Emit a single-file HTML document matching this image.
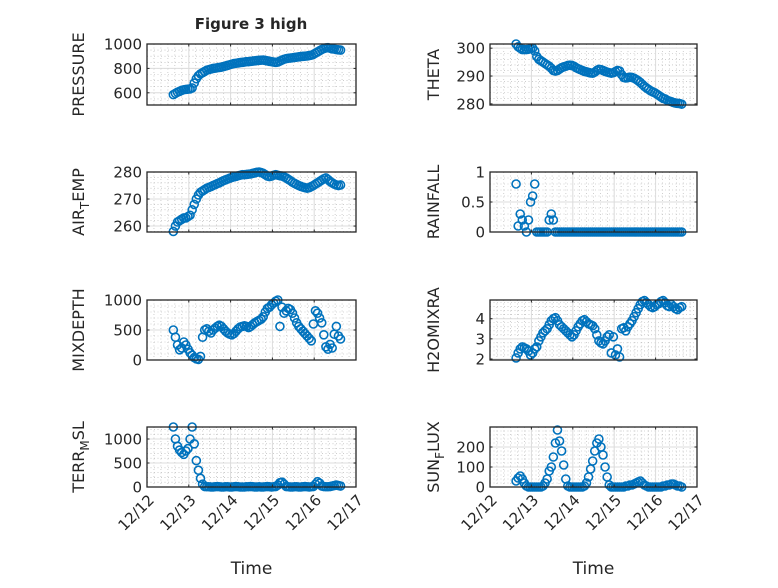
<!DOCTYPE html>
<html><head><meta charset="utf-8"><style>
html,body{margin:0;padding:0;background:#fff;}
svg text{font-family:"DejaVu Sans","Liberation Sans",sans-serif;fill:#262626;}
</style></head><body>
<svg id="fig" width="778" height="583" viewBox="0 0 778 583" xmlns="http://www.w3.org/2000/svg">
<rect width="778" height="583" fill="#fff"/>
<text x="251" y="29" text-anchor="middle" font-size="15" font-weight="bold">Figure 3 high</text>
</svg>
<script>
const xStart = 0.63, xStep = 0.05;
const xTickLabels = ["12/12","12/13","12/14","12/15","12/16","12/17"];
const pressure = [585,595,605,612, 620,625,628,630,632,640, 680,715,740,755,765,775,785, 790,795,800,802,805,808,810, 815,820,825,830,835,840,842,845,848, 850,852,855,855,858,860,862,864,866,867,868, 865,862,858,855,852,850,852, 860,868,875,880,883,885,887, 890,892,895,897,899,900,902,905,908, 915,925,935,945,955,962,968,970, 965,960,958,955,952,950];
const theta = [301.5,300.5,300,299.5, 299.5,299.5,299.6,299.8,300,299, 297,296,295.5,295,294.5, 294,293.5,292.8,292,291.8, 292,292.5,293,293.3,293.5,293.8,293.9,293.8,293.5, 293,292.6,292.3,292,291.7,291.5,291.3,291.1,291, 291.4,292,292.4,292.3,292,291.7,291.4,291.2,291, 291.2,291.6,292,291.8,290.5,289.5,289.3, 289.4,289.6,289.5,289.2,288.8,288.3, 287.7,287,286.3,285.7,285.2,284.7,284.3,284, 283.5,283,282.5,282,281.8,281.3,281, 280.8,280.5,280.3,280.2,280.1,279.9];
const airTemp = [258,260,261.5,262, 262.5,263,263,263.5,264,266, 268,270,271.5,272.5,273, 273.5,274,274.3,274.6,275,275.3,275.7,276,276.4, 276.8,277.1,277.4,277.7,278,278.2,278.4,278.6,278.8, 279,279,279.1,279.2,279.3,279.5,279.7,279.9,280,279.8,279.5, 279,278.5,278.3,278.5,278.8,279,278.8, 278.6,278.5,278.2,277.8,277.3,276.8,276.2, 275.8,275.4,275,274.7,274.4,274.2,274,274.2,274.6, 275,275.5,276,276.5,277,277.5,277.8,277.2, 276.5,276,275.5,275.2,275,275.2];
const rainfall = [0.8,0.1,0.3,0.2,0.1,0,0.2,0.5,0.6,0.8, 0,0,0,0,0,0, 0.2,0.3,0.2, 0,0,0,0,0,0,0,0,0,0,0,0,0,0,0,0,0,0,0,0,0,0,0,0,0,0,0,0,0,0,0,0,0,0,0,0,0,0,0,0,0,0,0,0,0,0,0,0,0,0,0,0,0,0,0,0,0,0,0,0,0,0];
const mixDepth = [500,380,250,170, 200,300,250,180,120,80, 40,20,10,60, 380,500,520,480,450,500, 530,560,580,560,520,480,450, 430,420,440,480,520,550,560, 570,560,540,560,590,620,640,660, 680,720,800,860,880,920, 950,980,1000,560,880,780, 820,860,840,780,700,620, 560,520,480,440,400,360, 320,600,820,780,700,620, 420,220,180,260,200, 430,560,400,350];
const h2oMix = [2.05,2.3,2.5,2.6, 2.55,2.5,2.4,2.2,2.3,2.5, 2.6,2.9,3.1,3.3,3.4, 3.5,3.7,3.9,4.0,4.05, 3.9,3.7,3.6,3.5,3.4,3.3,3.2,3.1, 3.2,3.4,3.6,3.75,3.9,3.95, 3.85,3.75,3.7,3.65,3.5,3.2, 2.9,2.8,2.75,2.9,3.1,3.2, 2.3,3.1,2.2,2.5,2.1, 3.5,3.55,3.4,3.6,3.75, 3.9,4.1,4.3,4.5,4.7,4.85,4.9, 4.8,4.7,4.6,4.55,4.6,4.7, 4.75,4.85,4.9,4.8,4.65,4.6, 4.7,4.6,4.5,4.45,4.55,4.6];
const terrMsl = [1250,1000,850,770, 720,680,750,800,1000,1250, 900,550,350,180,60, 10,5,5,0,0,5,10,5,0,0,5,5,0,0,5,10,5,0,0,0,5,5,10,5,0,0,5,0,0,5,10,5,0,5,10, 40,90,100,60, 10,5,0,0,5,5,0,0,5,10,5,0,5,10, 60,110,80, 20,10,5,5,10,20,30,40,30,20];
const sunFlux = [30,45,55,40, 20,5,0, 0,0,0,0,0,0,5, 20,40,80,100,150,220,285,230,180,110,40, 5,0,0,0,0,0,0,0,5, 20,50,90,130,180,220,240,200,160,100,50,10, 0,0,0,0,0,0,0,5,5,10,10,15, 20,25,30,20,10,5,0, 0,0,0,0,0,0,5,5,10,10,15,15,10,5,5,0];

const NS="http://www.w3.org/2000/svg";
const svg=document.getElementById('fig');
function mk(tag,attrs,parent){const e=document.createElementNS(NS,tag);for(const k in attrs)e.setAttribute(k,attrs[k]);(parent||svg).appendChild(e);return e;}

const cols=[{x0:147,x1:356,lx:77},{x0:490,x1:697,lx:432}];
const rows=[{y0:44,y1:105},{y0:172,y1:232},{y0:300,y1:360},{y0:427,y1:487}];
const panels=[
 {name:'pressure',data:pressure,c:0,r:0,min:500,max:1000,ticks:[600,800,1000],tl:["600","800","1000"],minor:50,label:['PRESSURE']},
 {name:'theta',data:theta,c:1,r:0,min:279.6,max:301.5,ticks:[280,290,300],tl:["280","290","300"],minor:2,label:['THETA']},
 {name:'air-temp',data:airTemp,c:0,r:1,min:257.8,max:280,ticks:[260,270,280],tl:["260","270","280"],minor:2,label:['AIR','T','EMP']},
 {name:'rainfall',data:rainfall,c:1,r:1,min:0,max:1,ticks:[0,0.5,1],tl:["0","0.5","1"],minor:0.1,label:['RAINFALL']},
 {name:'mixdepth',data:mixDepth,c:0,r:2,min:0,max:1000,ticks:[0,500,1000],tl:["0","500","1000"],minor:100,label:['MIXDEPTH']},
 {name:'h2omixra',data:h2oMix,c:1,r:2,min:1.95,max:4.93,ticks:[2,3,4],tl:["2","3","4"],minor:0.2,label:['H2OMIXRA']},
 {name:'terr-msl',data:terrMsl,c:0,r:3,min:0,max:1250,ticks:[0,500,1000],tl:["0","500","1000"],minor:100,label:['TERR','M','SL']},
 {name:'sun-flux',data:sunFlux,c:1,r:3,min:0,max:300,ticks:[0,100,200],tl:["0","100","200"],minor:20,label:['SUN','F','LUX']}
];

panels.forEach(p=>{
 const C=cols[p.c],R=rows[p.r];
 const xs=d=>C.x0+(d/5)*(C.x1-C.x0);
 const ys=v=>R.y1-(v-p.min)/(p.max-p.min)*(R.y1-R.y0);
 const g=mk('g',{});
 
 
 mk('rect',{x:C.x0,y:R.y0,width:C.x1-C.x0,height:R.y1-R.y0,fill:'#fff'},g);
 for(let d=0;d<=5.0001;d+=1/6){const X=xs(d);mk('line',{x1:X,x2:X,y1:R.y0,y2:R.y1,stroke:'#b0b0b0','stroke-width':0.6,'stroke-dasharray':'1 2.5'},g);}
 for(let v=Math.ceil(p.min/p.minor)*p.minor;v<=p.max;v+=p.minor){const Y=ys(v);mk('line',{x1:C.x0,x2:C.x1,y1:Y,y2:Y,stroke:'#b0b0b0','stroke-width':0.6,'stroke-dasharray':'1 2.5'},g);}
 for(let i=1;i<5;i++){const X=xs(i);mk('line',{x1:X,x2:X,y1:R.y0,y2:R.y1,stroke:'#dcdcdc','stroke-width':1},g);}
 p.ticks.forEach(v=>{const Y=ys(v);mk('line',{x1:C.x0,x2:C.x1,y1:Y,y2:Y,stroke:'#dcdcdc','stroke-width':1},g);});
 const sg=mk('g',{fill:'none',stroke:'#0072BD','stroke-width':1.6},g);
 
 
 p.data.forEach((v,i)=>{
  const c=mk('circle',{cx:xs(xStart+i*xStep),cy:ys(v),r:4},sg);
  
  
 });
 mk('rect',{x:C.x0,y:R.y0,width:C.x1-C.x0,height:R.y1-R.y0,fill:'none',stroke:'#262626','stroke-width':1.3},g);
 for(let i=0;i<=5;i++){const X=xs(i);mk('line',{x1:X,x2:X,y1:R.y1,y2:R.y1-2.5,stroke:'#262626'},g);mk('line',{x1:X,x2:X,y1:R.y0,y2:R.y0+2.5,stroke:'#262626'},g);}
 p.ticks.forEach((v,i)=>{const Y=ys(v);
  mk('line',{x1:C.x0,x2:C.x0+2.5,y1:Y,y2:Y,stroke:'#262626'},g);mk('line',{x1:C.x1,x2:C.x1-2.5,y1:Y,y2:Y,stroke:'#262626'},g);
  const t=mk('text',{x:C.x0-5,y:Y+5.5,'text-anchor':'end','font-size':15},g);t.textContent=p.tl[i];
  
  
 });
 const yl=mk('text',{transform:`translate(${C.lx+7},${(R.y0+R.y1)/2}) rotate(-90)`,'text-anchor':'middle','font-size':16},g);
 
 
 if(p.label.length===1){yl.textContent=p.label[0];}
 else{const a=mk('tspan',{},yl);a.textContent=p.label[0];const b=mk('tspan',{'font-size':12,dy:5},yl);b.textContent=p.label[1];const c2=mk('tspan',{dy:-5},yl);c2.textContent=p.label[2];}
 if(p.r===3){
  xTickLabels.forEach((s,i)=>{const X=xs(i);
   const t=mk('text',{transform:`translate(${X+8},${R.y1+14}) rotate(-45)`,'text-anchor':'end','font-size':15},g);t.textContent=s;
   
   
  });
  const xt=mk('text',{x:(C.x0+C.x1)/2,y:574,'text-anchor':'middle','font-size':17},g);xt.textContent='Time';
  
  
 }
});
</script>
</body></html>
